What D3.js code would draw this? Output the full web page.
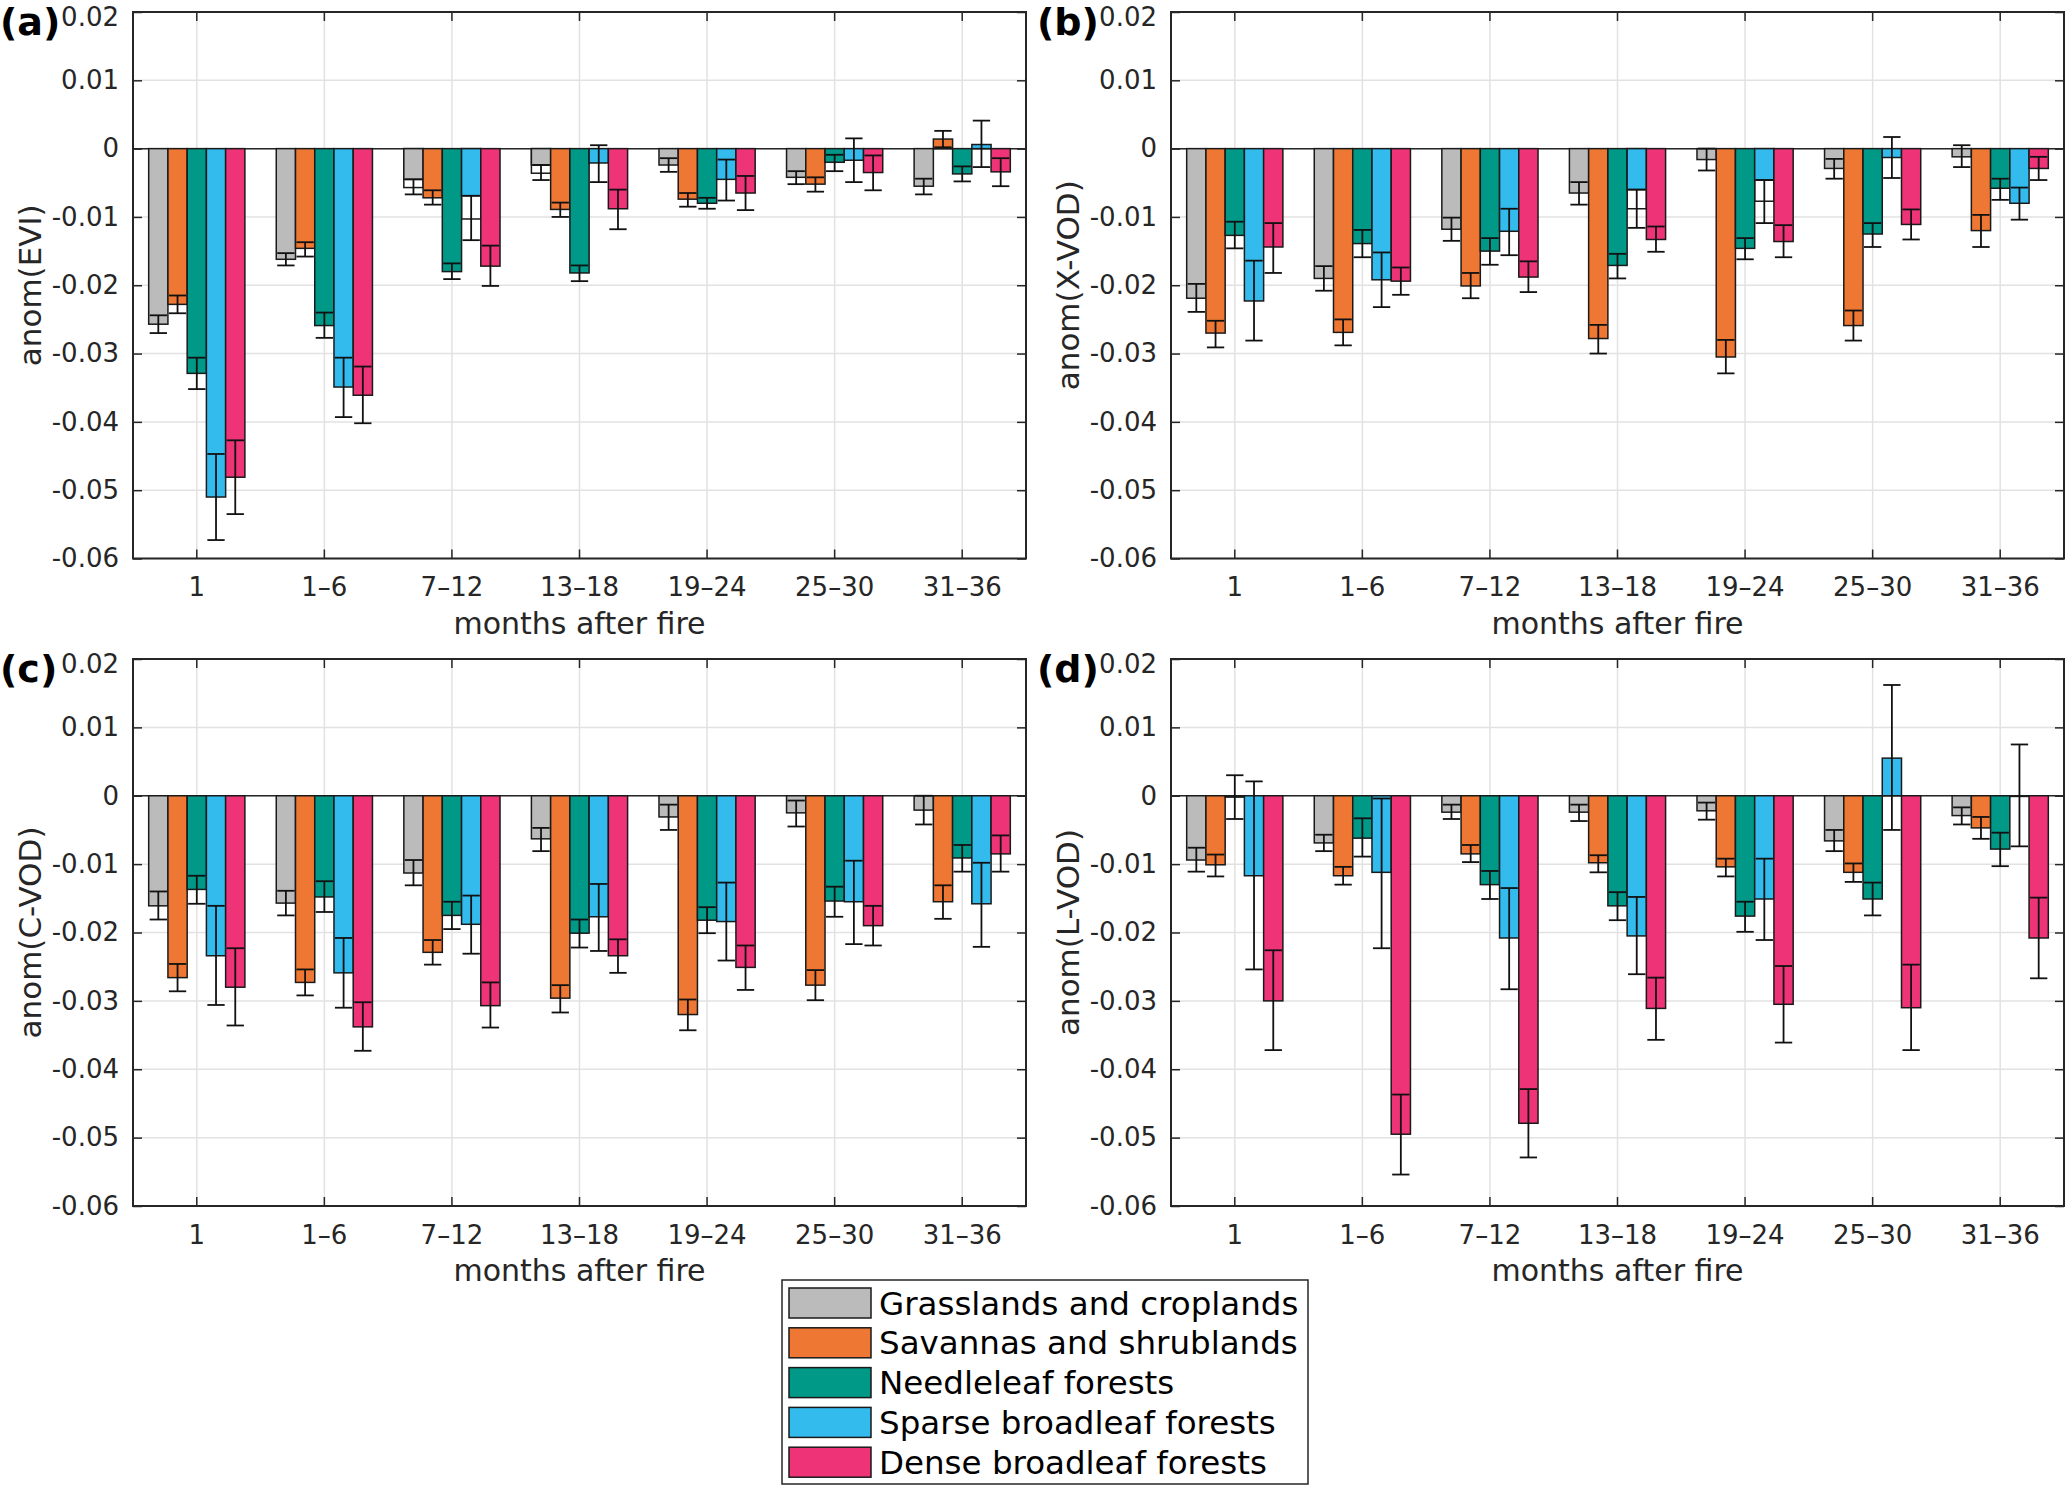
<!DOCTYPE html>
<html>
<head>
<meta charset="utf-8">
<script src="https://cdn.jsdelivr.net/npm/d3@7"></script>
<style>
  body { margin: 0; background: #fff; }
  svg { display: block; }
  text { font-family: "DejaVu Sans", sans-serif; }
</style>
</head>
<body>
<svg id="fig" width="2067" height="1488"></svg>
<script>
'use strict';

// ---- data ----
var groups = ['1', '1\u20136', '7\u201312', '13\u201318', '19\u201324', '25\u201330', '31\u201336'];
var types = ['Grasslands and croplands', 'Savannas and shrublands', 'Needleleaf forests',
  'Sparse broadleaf forests', 'Dense broadleaf forests'];
var colors = ['#bbbbbb', '#ee7733', '#009988', '#33bbee', '#ee3377'];
var yTicks = [0.02, 0.01, 0, -0.01, -0.02, -0.03, -0.04, -0.05, -0.06];

// (a) EVI: bar value, upper / lower whisker, outlined box (null = none)
var eviBar = [
  [-0.0257, -0.0228, -0.0329, -0.0510, -0.0481],
  [-0.0162, -0.0146, -0.0259, -0.0349, -0.0361],
  [-0.0045, -0.0072, -0.0180, -0.0069, -0.0172],
  [-0.0024, -0.0089, -0.0182, -0.0021, -0.0088],
  [-0.0024, -0.0074, -0.0080, -0.0045, -0.0065],
  [-0.0042, -0.0052, -0.0020, -0.0017, -0.0035],
  [-0.0055, 0.0014, -0.0037, 0.0006, -0.0034]
];
var eviHi = [
  [-0.0244, -0.0215, -0.0306, -0.0447, -0.0427],
  [-0.0153, -0.0137, -0.0240, -0.0306, -0.0319],
  [-0.0045, -0.0061, -0.0168, -0.0069, -0.0142],
  [-0.0024, -0.0079, -0.0171, 0.0005, -0.0060],
  [-0.0014, -0.0065, -0.0072, -0.0016, -0.0040],
  [-0.0033, -0.0042, -0.0009, 0.0015, -0.0010],
  [-0.0044, 0.0026, -0.0026, 0.0041, -0.0014]
];
var eviLo = [
  [-0.0270, -0.0241, -0.0352, -0.0573, -0.0535],
  [-0.0171, -0.0158, -0.0277, -0.0393, -0.0402],
  [-0.0067, -0.0082, -0.0191, -0.0134, -0.0201],
  [-0.0046, -0.0100, -0.0194, -0.0049, -0.0118],
  [-0.0034, -0.0085, -0.0088, -0.0076, -0.0090],
  [-0.0052, -0.0063, -0.0033, -0.0049, -0.0061],
  [-0.0067, 0.0002, -0.0048, -0.0027, -0.0055]
];
var eviBox = [
  [null, null, null, null, null],
  [null, null, null, null, null],
  [-0.0057, null, null, -0.0103, null],
  [-0.0036, null, null, null, null],
  [null, null, null, null, null],
  [null, null, null, null, null],
  [null, null, null, null, null]
];

// (b) X-VOD
var xvodBar = [
  [-0.0219, -0.0270, -0.0127, -0.0223, -0.0144],
  [-0.0190, -0.0269, -0.0139, -0.0192, -0.0194],
  [-0.0118, -0.0201, -0.0150, -0.0121, -0.0188],
  [-0.0065, -0.0278, -0.0171, -0.0060, -0.0133],
  [-0.0016, -0.0305, -0.0146, -0.0046, -0.0136],
  [-0.0029, -0.0259, -0.0125, -0.0013, -0.0111],
  [-0.0012, -0.0120, -0.0058, -0.0080, -0.0029]
];
var xvodHi = [
  [-0.0198, -0.0252, -0.0107, -0.0164, -0.0109],
  [-0.0172, -0.0250, -0.0119, -0.0152, -0.0174],
  [-0.0101, -0.0182, -0.0131, -0.0088, -0.0165],
  [-0.0049, -0.0258, -0.0154, -0.0060, -0.0114],
  [0.0000, -0.0280, -0.0131, -0.0046, -0.0112],
  [-0.0015, -0.0237, -0.0109, 0.0017, -0.0089],
  [0.0005, -0.0097, -0.0044, -0.0057, -0.0012]
];
var xvodLo = [
  [-0.0239, -0.0291, -0.0146, -0.0281, -0.0182],
  [-0.0208, -0.0288, -0.0159, -0.0232, -0.0214],
  [-0.0135, -0.0219, -0.0170, -0.0156, -0.0210],
  [-0.0082, -0.0300, -0.0190, -0.0116, -0.0151],
  [-0.0032, -0.0329, -0.0162, -0.0109, -0.0159],
  [-0.0044, -0.0281, -0.0144, -0.0043, -0.0133],
  [-0.0027, -0.0144, -0.0075, -0.0104, -0.0046]
];
var xvodBox = [
  [null, null, null, null, null],
  [null, null, null, null, null],
  [null, null, null, null, null],
  [null, null, null, -0.0088, null],
  [null, null, null, -0.0077, null],
  [null, null, null, null, null],
  [null, null, null, null, null]
];

// (c) C-VOD
var cvodBar = [
  [-0.0161, -0.0266, -0.0137, -0.0234, -0.0280],
  [-0.0157, -0.0273, -0.0148, -0.0259, -0.0338],
  [-0.0113, -0.0229, -0.0175, -0.0188, -0.0307],
  [-0.0063, -0.0296, -0.0201, -0.0177, -0.0234],
  [-0.0031, -0.0320, -0.0182, -0.0184, -0.0251],
  [-0.0025, -0.0277, -0.0154, -0.0155, -0.0190],
  [-0.0021, -0.0155, -0.0091, -0.0158, -0.0085]
];
var cvodHi = [
  [-0.0140, -0.0246, -0.0117, -0.0161, -0.0223],
  [-0.0139, -0.0254, -0.0125, -0.0208, -0.0302],
  [-0.0094, -0.0211, -0.0155, -0.0146, -0.0273],
  [-0.0047, -0.0277, -0.0181, -0.0129, -0.0210],
  [-0.0013, -0.0298, -0.0163, -0.0127, -0.0219],
  [-0.0007, -0.0255, -0.0133, -0.0095, -0.0161],
  [0.0000, -0.0131, -0.0072, -0.0098, -0.0058]
];
var cvodLo = [
  [-0.0181, -0.0286, -0.0158, -0.0306, -0.0336],
  [-0.0175, -0.0292, -0.0170, -0.0310, -0.0373],
  [-0.0131, -0.0247, -0.0195, -0.0231, -0.0339],
  [-0.0081, -0.0317, -0.0222, -0.0227, -0.0259],
  [-0.0050, -0.0343, -0.0201, -0.0241, -0.0284],
  [-0.0045, -0.0299, -0.0177, -0.0217, -0.0219],
  [-0.0042, -0.0180, -0.0111, -0.0221, -0.0111]
];
var cvodBox = [
  [null, null, null, null, null],
  [null, null, null, null, null],
  [null, null, null, null, null],
  [null, null, null, null, null],
  [null, null, null, null, null],
  [null, null, null, null, null],
  [null, null, null, null, null]
];

// (d) L-VOD
var lvodBar = [
  [-0.0094, -0.0101, -0.0002, -0.0117, -0.0300],
  [-0.0069, -0.0117, -0.0062, -0.0112, -0.0495],
  [-0.0024, -0.0085, -0.0130, -0.0208, -0.0479],
  [-0.0024, -0.0098, -0.0161, -0.0205, -0.0311],
  [-0.0022, -0.0104, -0.0176, -0.0151, -0.0305],
  [-0.0066, -0.0112, -0.0151, 0.0055, -0.0310],
  [-0.0029, -0.0047, -0.0078, -0.0001, -0.0208]
];
var lvodHi = [
  [-0.0076, -0.0086, 0.0030, 0.0021, -0.0226],
  [-0.0057, -0.0104, -0.0033, -0.0004, -0.0437],
  [-0.0013, -0.0072, -0.0110, -0.0135, -0.0429],
  [-0.0013, -0.0087, -0.0141, -0.0148, -0.0266],
  [-0.0010, -0.0092, -0.0155, -0.0092, -0.0249],
  [-0.0050, -0.0099, -0.0127, 0.0162, -0.0247],
  [-0.0017, -0.0031, -0.0054, 0.0075, -0.0149]
];
var lvodLo = [
  [-0.0111, -0.0118, -0.0034, -0.0254, -0.0372],
  [-0.0081, -0.0130, -0.0089, -0.0223, -0.0554],
  [-0.0034, -0.0097, -0.0151, -0.0283, -0.0529],
  [-0.0037, -0.0112, -0.0182, -0.0261, -0.0357],
  [-0.0035, -0.0118, -0.0199, -0.0211, -0.0361],
  [-0.0081, -0.0126, -0.0175, -0.0050, -0.0372],
  [-0.0042, -0.0063, -0.0103, -0.0074, -0.0267]
];
var lvodBox = [
  [null, null, null, null, null],
  [null, null, null, null, null],
  [null, null, null, null, null],
  [null, null, null, null, null],
  [null, null, null, null, null],
  [null, null, null, null, null],
  [null, null, null, null, null]
];

// ---- layout ----
var axisColor = '#262626';
var tickFont = 26;
var xlabFont = 30;
var ylabFont = 31;

var panels = [
  { tag: '(a)', ylab: 'anom(EVI)', bar: eviBar, hi: eviHi, lo: eviLo, box: eviBox,
    left: 133, right: 1026, top: 12, bottom: 558.5, tagX: 0, ylabX: 41 },
  { tag: '(b)', ylab: 'anom(X-VOD)', bar: xvodBar, hi: xvodHi, lo: xvodLo, box: xvodBox,
    left: 1171, right: 2064, top: 12, bottom: 558.5, tagX: 1037, ylabX: 1079 },
  { tag: '(c)', ylab: 'anom(C-VOD)', bar: cvodBar, hi: cvodHi, lo: cvodLo, box: cvodBox,
    left: 133, right: 1026, top: 659, bottom: 1206, tagX: 0, ylabX: 41 },
  { tag: '(d)', ylab: 'anom(L-VOD)', bar: lvodBar, hi: lvodHi, lo: lvodLo, box: lvodBox,
    left: 1171, right: 2064, top: 659, bottom: 1206, tagX: 1037, ylabX: 1079 }
];

var svg = d3.select('#fig');

function fmt(d) {
  return d === 0 ? '0' : d.toFixed(2);
}

function styleAxis(sel) {
  sel.attr('font-family', '"DejaVu Sans", sans-serif').attr('font-size', tickFont);
  sel.select('.domain').remove();
  sel.selectAll('.tick line').attr('stroke', axisColor).attr('stroke-width', 1.5);
  sel.selectAll('.tick text').attr('fill', axisColor);
}

function drawPanel(p) {
  var g = svg.append('g');
  var x = d3.scaleBand().domain(groups).range([p.left, p.right]);
  var bw = x.bandwidth();
  var sub = d3.scaleBand().domain(d3.range(types.length)).range([bw * 0.123, bw * 0.877]);
  var y = d3.scaleLinear().domain([-0.06, 0.02]).range([p.bottom, p.top]);
  var capW = sub.bandwidth() * 0.9;

  // grid
  g.append('g').selectAll('line').data(yTicks).join('line')
    .attr('x1', p.left).attr('x2', p.right)
    .attr('y1', function (d) { return y(d); }).attr('y2', function (d) { return y(d); })
    .attr('stroke', '#e2e2e2').attr('stroke-width', 1.5);
  g.append('g').selectAll('line').data(groups).join('line')
    .attr('x1', function (d) { return x(d) + bw / 2; }).attr('x2', function (d) { return x(d) + bw / 2; })
    .attr('y1', p.top).attr('y2', p.bottom)
    .attr('stroke', '#e2e2e2').attr('stroke-width', 1.5);

  // baseline
  g.append('line').attr('x1', p.left).attr('x2', p.right)
    .attr('y1', y(0)).attr('y2', y(0)).attr('stroke', axisColor).attr('stroke-width', 1.5);

  var rows = [];
  groups.forEach(function (grp, i) {
    types.forEach(function (t, j) {
      rows.push({ grp: grp, j: j, v: p.bar[i][j], hi: p.hi[i][j], lo: p.lo[i][j], box: p.box[i][j] });
    });
  });
  function cx(r) { return x(r.grp) + sub(r.j) + sub.bandwidth() / 2; }

  // outlined (unfilled) boxes
  g.append('g').selectAll('rect').data(rows.filter(function (r) { return r.box !== null; })).join('rect')
    .attr('x', function (r) { return x(r.grp) + sub(r.j); })
    .attr('width', sub.bandwidth())
    .attr('y', function (r) { return y(Math.max(0, r.box)); })
    .attr('height', function (r) { return Math.abs(y(r.box) - y(0)); })
    .attr('fill', '#fff').attr('stroke', '#1a1a1a').attr('stroke-width', 1.5);

  // bars
  g.append('g').selectAll('rect').data(rows).join('rect')
    .attr('x', function (r) { return x(r.grp) + sub(r.j); })
    .attr('width', sub.bandwidth())
    .attr('y', function (r) { return y(Math.max(0, r.v)); })
    .attr('height', function (r) { return Math.abs(y(r.v) - y(0)); })
    .attr('fill', function (r) { return colors[r.j]; })
    .attr('stroke', '#1a1a1a').attr('stroke-width', 1.5);

  // error bars
  var eg = g.append('g').attr('stroke', '#111').attr('stroke-width', 1.8);
  eg.selectAll('line.v').data(rows).join('line').attr('class', 'v')
    .attr('x1', cx).attr('x2', cx)
    .attr('y1', function (r) { return y(r.hi); }).attr('y2', function (r) { return y(r.lo); });
  eg.selectAll('line.t').data(rows).join('line').attr('class', 't')
    .attr('x1', function (r) { return cx(r) - capW / 2; }).attr('x2', function (r) { return cx(r) + capW / 2; })
    .attr('y1', function (r) { return y(r.hi); }).attr('y2', function (r) { return y(r.hi); });
  eg.selectAll('line.b').data(rows).join('line').attr('class', 'b')
    .attr('x1', function (r) { return cx(r) - capW / 2; }).attr('x2', function (r) { return cx(r) + capW / 2; })
    .attr('y1', function (r) { return y(r.lo); }).attr('y2', function (r) { return y(r.lo); });

  // axes, ticks pointing inward
  var yAx = g.append('g').attr('transform', 'translate(' + p.left + ',0)')
    .call(d3.axisLeft(y).tickValues(yTicks).tickSize(-9).tickPadding(14).tickFormat(fmt))
    .call(styleAxis);
  // keep the top label inside the picture
  yAx.selectAll('.tick text').filter(function (d) { return d === 0.02; }).attr('dy', '0.5em');
  g.append('g').attr('transform', 'translate(' + p.right + ',0)')
    .call(d3.axisRight(y).tickValues(yTicks).tickSize(-9).tickFormat(''))
    .call(styleAxis);
  g.append('g').attr('transform', 'translate(0,' + p.bottom + ')')
    .call(d3.axisBottom(x).tickSize(-9).tickPadding(19.5))
    .call(styleAxis);
  g.append('g').attr('transform', 'translate(0,' + p.top + ')')
    .call(d3.axisTop(x).tickSize(-9).tickFormat(''))
    .call(styleAxis);

  g.append('rect').attr('x', p.left).attr('y', p.top)
    .attr('width', p.right - p.left).attr('height', p.bottom - p.top)
    .attr('fill', 'none').attr('stroke', axisColor).attr('stroke-width', 2);

  // labels
  g.append('text').attr('x', (p.left + p.right) / 2).attr('y', p.bottom + 75)
    .attr('text-anchor', 'middle').attr('font-size', xlabFont).attr('fill', axisColor)
    .text('months after fire');
  g.append('text')
    .attr('transform', 'translate(' + p.ylabX + ',' + (p.top + p.bottom) / 2 + ') rotate(-90)')
    .attr('text-anchor', 'middle').attr('font-size', ylabFont).attr('fill', axisColor)
    .text(p.ylab);
  g.append('text').attr('x', p.tagX).attr('y', p.top + 23)
    .attr('font-size', 38).attr('font-weight', 'bold').attr('fill', '#000')
    .text(p.tag);
}

panels.forEach(drawPanel);

// legend
var leg = svg.append('g');
leg.append('rect').attr('x', 782).attr('y', 1280).attr('width', 526).attr('height', 204)
  .attr('fill', '#fff').attr('stroke', axisColor).attr('stroke-width', 1.5);
var item = leg.selectAll('g.item').data(types).join('g').attr('class', 'item')
  .attr('transform', function (d, i) { return 'translate(789,' + (1288 + i * 39.8) + ')'; });
item.append('rect').attr('width', 82).attr('height', 30)
  .attr('fill', function (d, i) { return colors[i]; })
  .attr('stroke', '#1a1a1a').attr('stroke-width', 1.5);
item.append('text').attr('x', 90).attr('y', 26.5).attr('font-size', 32.5).attr('fill', '#000')
  .text(function (d) { return d; });
</script>
</body>
</html>
